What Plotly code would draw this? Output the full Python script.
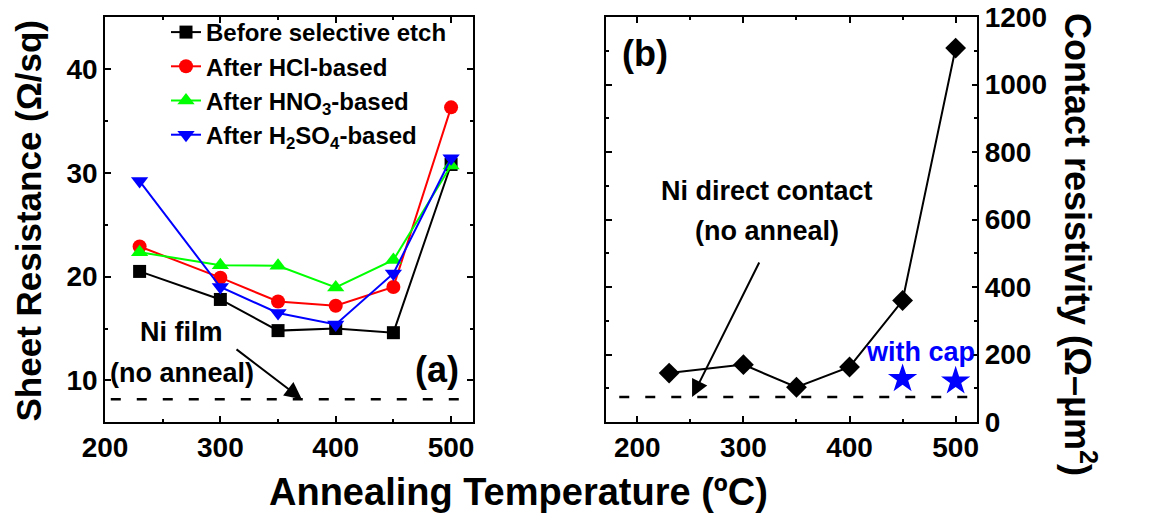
import plotly.graph_objects as go

# ---------------- data ----------------
temps = [230, 300, 350, 400, 450, 500]
before_etch = [20.5, 17.8, 14.8, 15.0, 14.6, 30.8]
after_hcl = [22.9, 19.9, 17.6, 17.2, 19.0, 36.3]
after_hno3 = [22.35, 21.1, 21.05, 18.95, 21.6, 30.7]
after_h2so4 = [29.2, 19.0, 16.5, 15.4, 20.3, 31.4]
series_names = ["Before selective etch", "After HCl-based",
                "After HNO<sub>3</sub>-based", "After H<sub>2</sub>SO<sub>4</sub>-based"]

contact_res = [145, 170, 103, 163, 360, 1108]
cap_temps = [450, 500]
cap_res = [128, 121]

ni_film_rs = 8.2          # Ni film (no anneal) sheet resistance
ni_film_span = [205, 511]
ni_direct_rc = 74         # Ni direct contact (no anneal)
ni_direct_span = [183, 512]

FONT = "Liberation Sans, Arial, sans-serif"

fig = go.Figure()

# ---------------- panel (a) ----------------
styles = [
    dict(color="#000000", symbol="square", size=13),
    dict(color="#FF0000", symbol="circle", size=14),
    dict(color="#00FF00", symbol="triangle-up", size=15),
    dict(color="#0000FF", symbol="triangle-down", size=15),
]
for name, vals, st in zip(series_names, [before_etch, after_hcl, after_hno3, after_h2so4], styles):
    fig.add_trace(go.Scatter(
        x=temps, y=vals, name=name, mode="lines+markers",
        line=dict(color=st["color"], width=2),
        marker=dict(color=st["color"], symbol=st["symbol"], size=st["size"]),
        xaxis="x", yaxis="y", showlegend=True))

fig.add_trace(go.Scatter(
    x=ni_film_span, y=[ni_film_rs, ni_film_rs], mode="lines",
    line=dict(color="black", width=2.5, dash="10px,16px"),
    xaxis="x", yaxis="y", showlegend=False, hoverinfo="skip"))

# ---------------- panel (b) ----------------
fig.add_trace(go.Scatter(
    x=temps, y=contact_res, mode="lines+markers",
    line=dict(color="black", width=2),
    marker=dict(color="black", symbol="diamond", size=16),
    xaxis="x2", yaxis="y2", showlegend=False))
fig.add_trace(go.Scatter(
    x=cap_temps, y=cap_res, mode="markers",
    marker=dict(color="#0000FF", symbol="star", size=22),
    xaxis="x2", yaxis="y2", showlegend=False))
fig.add_trace(go.Scatter(
    x=ni_direct_span, y=[ni_direct_rc, ni_direct_rc], mode="lines",
    line=dict(color="black", width=2.5, dash="10px,16px"),
    xaxis="x2", yaxis="y2", showlegend=False, hoverinfo="skip"))

W, H = 1156, 516
OFF = 8  # page body margin offset (px)
px = lambda v: (v - OFF) / W
py = lambda v: 1 - (v - OFF) / H

tickfont = dict(family=FONT, size=28, color="black", weight="bold")
common = dict(showline=True, linecolor="black", linewidth=1.6, mirror="allticks",
              ticks="inside", ticklen=6, tickwidth=1.6, tickcolor="black",
              showgrid=False, zeroline=False, tickfont=tickfont, automargin=False,
              ticklabeloverflow="allow",
              minor=dict(ticks="inside", ticklen=3.5, tickwidth=1.6, tickcolor="black", showgrid=False))

y_dom = [py(422), py(17)]
fig.update_layout(
    width=W, height=H,
    margin=dict(l=0, r=0, t=0, b=0, autoexpand=False),
    paper_bgcolor="white", plot_bgcolor="white",
    xaxis=dict(domain=[px(105), px(473)], range=[200, 519], tick0=200, dtick=100,
               anchor="y", **{**common, "minor": {**common["minor"], "dtick": 50}}),
    yaxis=dict(domain=y_dom, range=[6, 45], tick0=0, dtick=10, anchor="x",
               **{**common, "minor": {**common["minor"], "dtick": 5}}),
    xaxis2=dict(domain=[px(606), px(977.3)], range=[170.5, 520.4], tick0=200, dtick=100,
                anchor="y2", **{**common, "minor": {**common["minor"], "dtick": 50}}),
    yaxis2=dict(domain=y_dom, range=[0, 1200], tick0=0, dtick=200, anchor="x2", side="right",
                **{**common, "minor": {**common["minor"], "dtick": 100}}),
    legend=dict(x=px(166), y=py(10), xanchor="left", yanchor="top",
                bgcolor="rgba(0,0,0,0)", borderwidth=0,
                font=dict(family=FONT, size=24, color="black", weight="bold"),
                tracegroupgap=0, itemsizing="trace"),
    showlegend=True,
)

bold = lambda s, c="black": dict(family=FONT, size=s, color=c, weight="bold")
C = dict(xanchor="center", yanchor="middle", showarrow=False)
ann = [
    # axis titles
    dict(text="Sheet Resistance (Ω/sq)", xref="paper", yref="paper", x=px(27.5), y=py(221),
         textangle=-90, font=bold(35), **C),
    dict(text="Annealing Temperature (ºC)", xref="paper", yref="paper", x=px(518), y=py(492),
         font=bold(38), **C),
    dict(text="Contact resistivity (Ω–μm<sup>2</sup>)", xref="paper", yref="paper", x=px(1080),
         y=py(244), textangle=90, font=bold(36), **C),
    # panel a texts
    dict(text="Ni film", xref="x", yref="y", x=266.5, y=14.65, font=bold(27), **C),
    dict(text="(no anneal)", xref="x", yref="y", x=266.5, y=10.73, font=bold(27), **C),
    dict(text="(a)", xref="x", yref="y", x=487.7, y=11.06, font=bold(36), **C),
    dict(text="", xref="x", yref="y", x=370.6, y=ni_film_rs, axref="x", ayref="y",
         ax=312.7, ay=13.1, showarrow=True, arrowhead=2, arrowsize=1.7, arrowwidth=2,
         arrowcolor="black", standoff=0),
    # panel b texts
    dict(text="(b)", xref="x2", yref="y2", x=207.3, y=1092, font=bold(36), **C),
    dict(text="Ni direct contact", xref="x2", yref="y2", x=322, y=685, font=bold(27), **C),
    dict(text="(no anneal)", xref="x2", yref="y2", x=322, y=566, font=bold(27), **C),
    dict(text="", xref="x2", yref="y2", x=251.6, y=74, axref="x2", ayref="y2",
         ax=315.6, ay=477, showarrow=True, arrowhead=2, arrowsize=1.7, arrowwidth=2,
         arrowcolor="black", standoff=0),
    dict(text="with cap", xref="x2", yref="y2", x=466.4, y=207, font=bold(27, "#0000FF"), **C),
]
fig.update_layout(annotations=ann)

fig.write_html("out.html")
